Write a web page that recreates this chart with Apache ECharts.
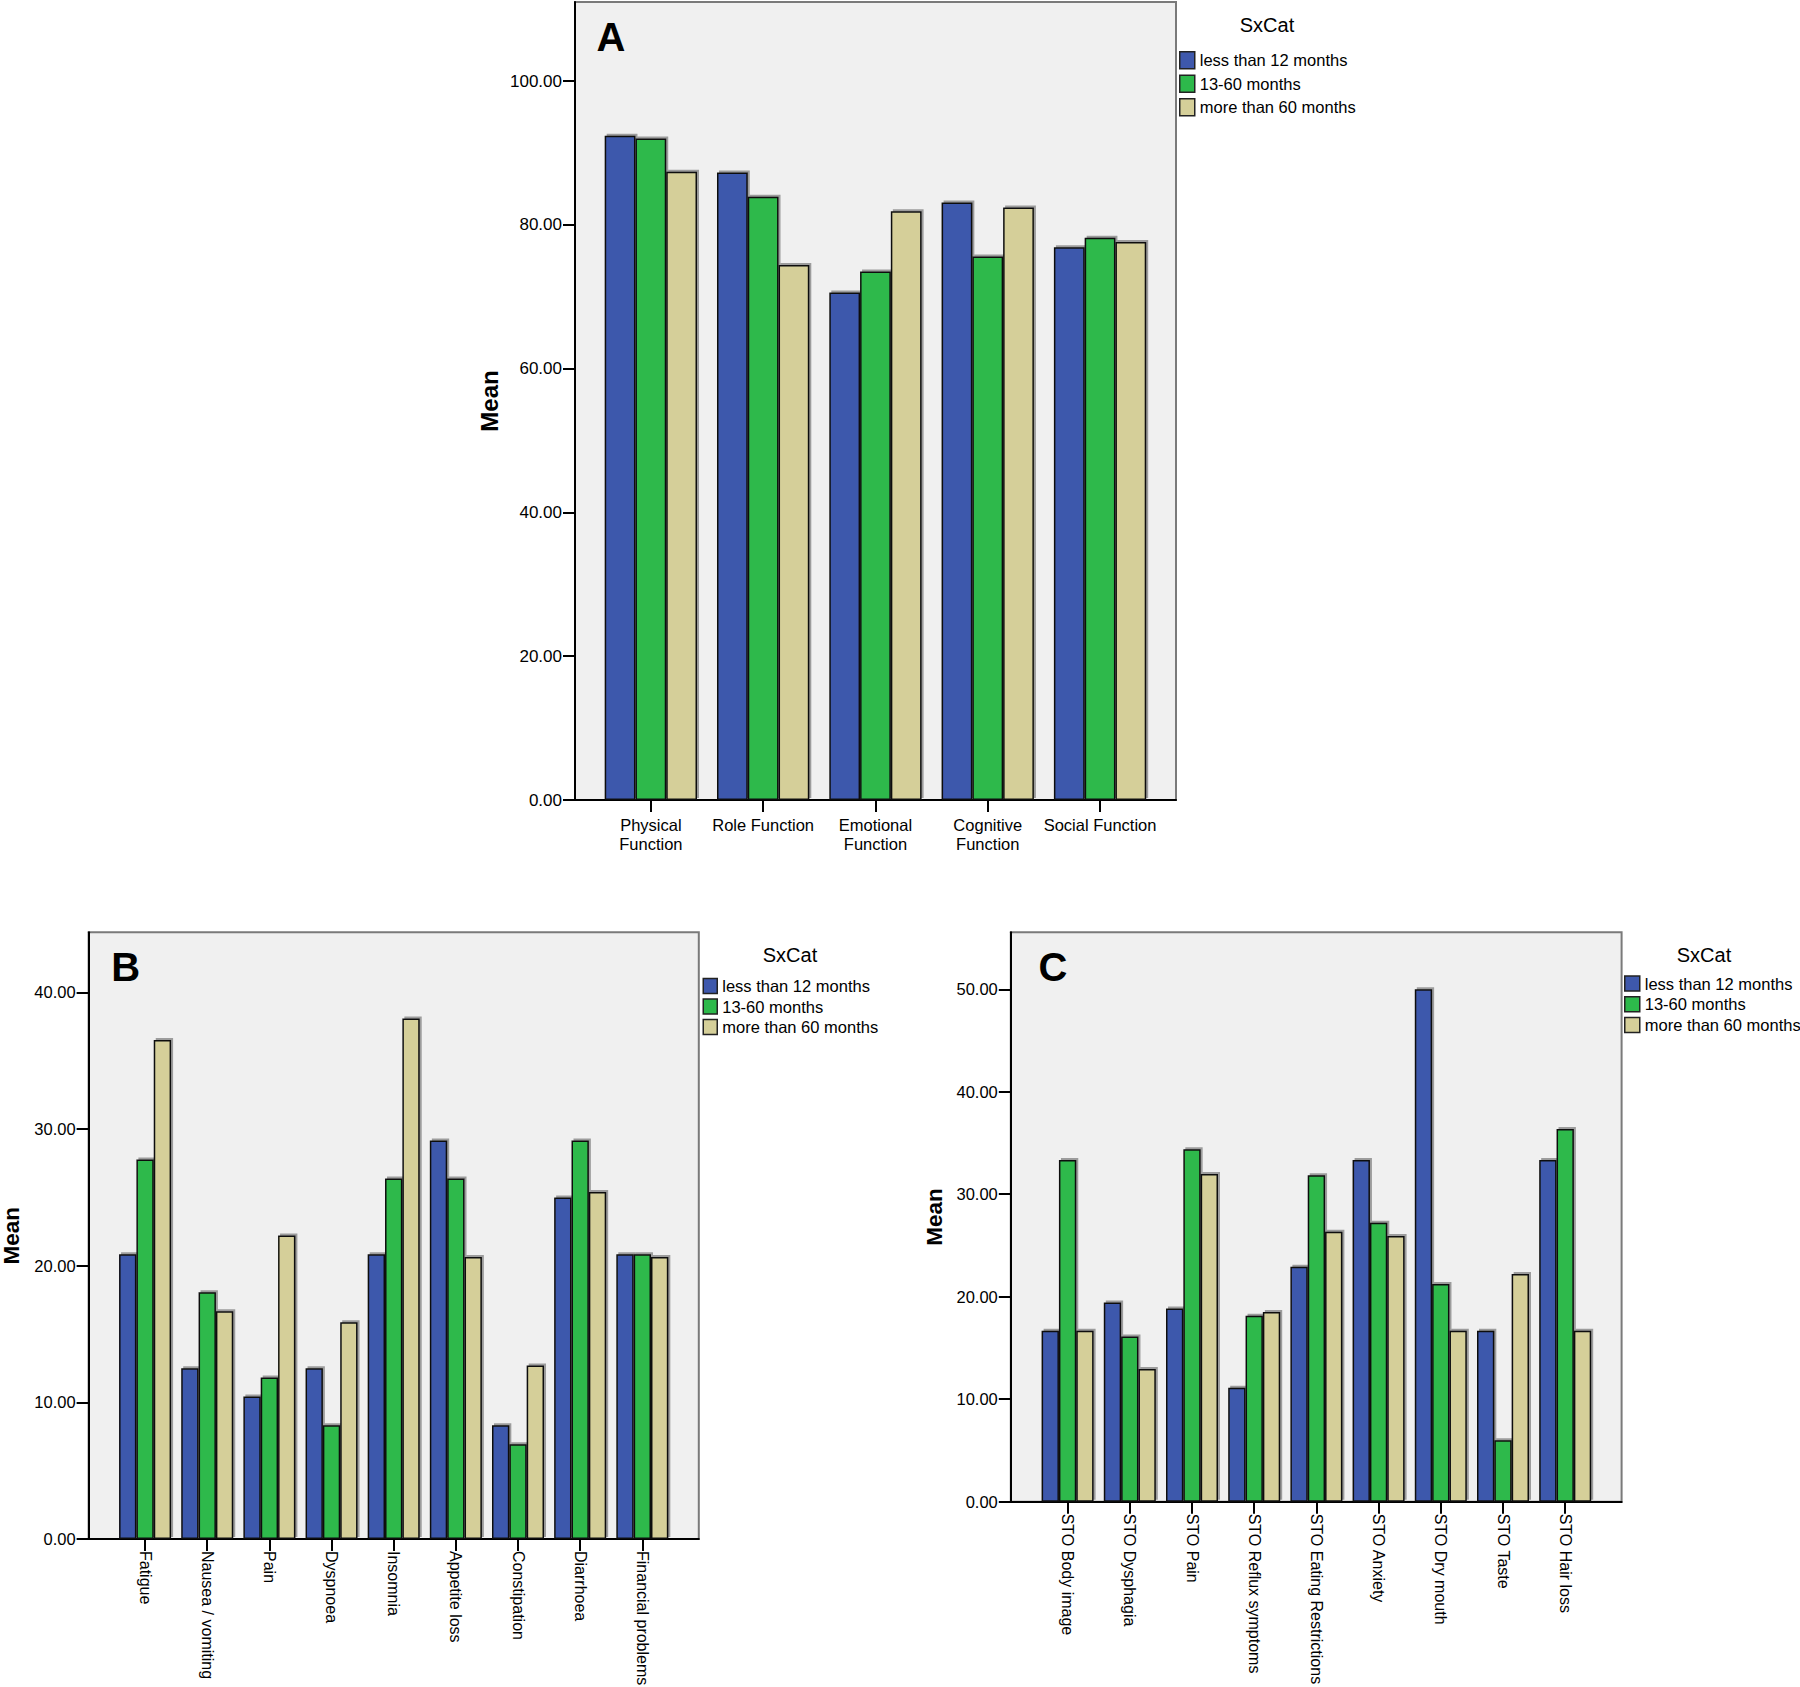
<!DOCTYPE html>
<html><head><meta charset="utf-8">
<script src="https://cdn.jsdelivr.net/npm/echarts@6/dist/echarts.min.js"></script>
<style>html,body{margin:0;padding:0;background:#fff}#c{width:1800px;height:1687px}</style>
</head><body><div id="c"></div><script>
// ---------- DATA ----------
const seriesNames = ['less than 12 months', '13-60 months', 'more than 60 months'];

const catsA = ['Physical\nFunction', 'Role Function', 'Emotional\nFunction', 'Cognitive\nFunction', 'Social Function'];
const lessA = [92.4, 87.3, 70.6, 83.1, 76.9];
const midA  = [92.0, 83.9, 73.5, 75.6, 78.2];
const moreA = [87.4, 74.4, 81.9, 82.4, 77.6];
const ticksA = [0, 20, 40, 60, 80, 100];

const catsB = ['Fatigue', 'Nausea / vomiting', 'Pain', 'Dyspnoea', 'Insomnia', 'Appetite loss', 'Constipation', 'Diarrhoea', 'Financial problems'];
const lessB = [20.83, 12.5, 10.42, 12.5, 20.83, 29.17, 8.33, 25.0, 20.83];
const midB  = [27.78, 18.06, 11.81, 8.33, 26.39, 26.39, 6.94, 29.17, 20.83];
const moreB = [36.51, 16.67, 22.22, 15.87, 38.1, 20.63, 12.7, 25.4, 20.63];
const ticksB = [0, 10, 20, 30, 40];

const catsC = ['STO Body image', 'STO Dysphagia', 'STO Pain', 'STO Reflux symptoms', 'STO Eating Restrictions', 'STO Anxiety', 'STO Dry mouth', 'STO Taste', 'STO Hair loss'];
const lessC = [16.67, 19.44, 18.84, 11.11, 22.92, 33.33, 50.0, 16.67, 33.33];
const midC  = [33.33, 16.11, 34.38, 18.15, 31.85, 27.22, 21.25, 6.0, 36.36];
const moreC = [16.67, 12.96, 31.98, 18.52, 26.34, 25.93, 16.67, 22.22, 16.67];
const ticksC = [0, 10, 20, 30, 40, 50];

const legendTitle = 'SxCat';
const yName = 'Mean';
const panelLetters = ['A', 'B', 'C'];

// ---------- STYLE ----------
const COLORS = ['#3E58AC', '#2DB94B', '#D5CF99'];
const ARIAL = '"Liberation Sans", Arial, sans-serif';

const option = {
  backgroundColor: '#ffffff',
  animation: false,
  grid: [], xAxis: [], yAxis: [], series: [], legend: [], graphic: []
};

function addPanel(p) {
  const fi = option.grid.length;
  option.grid.push({
    left: p.fl, top: p.top, width: p.fw, height: p.h, show: true, containLabel: false,
    outerBoundsMode: 'none',
    backgroundColor: '#f0f0f0', borderColor: '#7a7a7a', borderWidth: 2
  });
  const di = option.grid.length;
  option.grid.push({
    left: p.dl, top: p.top, width: p.dw, height: p.h, show: false, containLabel: false,
    outerBoundsMode: 'none'
  });
  const frameAxisLine = { show: true, onZero: false, lineStyle: { color: '#000', width: 2 } };
  option.xAxis.push({ gridIndex: fi, type: 'value', min: 0, max: 1, axisLine: frameAxisLine,
    axisTick: { show: false }, axisLabel: { show: false }, splitLine: { show: false } });
  option.yAxis.push({ gridIndex: fi, type: 'value', min: 0, max: 1, axisLine: frameAxisLine,
    axisTick: { show: false }, axisLabel: { show: false }, splitLine: { show: false } });

  const dx = option.xAxis.length;
  option.xAxis.push({
    gridIndex: di, type: 'category', data: p.cats,
    axisLine: { show: false },
    axisTick: { show: true, alignWithLabel: true, length: 12, lineStyle: { color: '#000', width: 2 } },
    axisLabel: Object.assign({ interval: 0, color: '#000', fontFamily: ARIAL, fontSize: p.xfs,
      margin: p.xmargin }, p.xlabelExtra || {}),
    splitLine: { show: false }
  });
  const dy = option.yAxis.length;
  option.yAxis.push({
    gridIndex: di, type: 'value', min: 0, max: p.max, interval: p.ticks[1] - p.ticks[0],
    offset: p.dl - p.fl,
    axisLine: { show: false },
    axisTick: { show: true, length: 12, customValues: p.ticks, lineStyle: { color: '#000', width: 2 } },
    axisLabel: { customValues: p.ticks, formatter: v => Number(v).toFixed(2), margin: 13,
      color: '#000', fontFamily: ARIAL, fontSize: p.yfs },
    splitLine: { show: false },
    name: yName, nameLocation: 'middle', nameRotate: 90, nameGap: p.nameGap,
    nameTextStyle: { fontWeight: 'bold', fontSize: p.nameFs, fontFamily: ARIAL, color: '#000' }
  });
  p.data.forEach((arr, k) => {
    option.series.push({
      type: 'bar', name: seriesNames[k], xAxisIndex: dx, yAxisIndex: dy, data: arr,
      barGap: '0%', barCategoryGap: p.catGap,
      itemStyle: { color: COLORS[k], borderColor: '#111', borderWidth: 1.5,
        shadowColor: 'rgba(0,0,0,0.35)', shadowOffsetX: 2, shadowOffsetY: -2, shadowBlur: 0 },
      emphasis: { disabled: true }
    });
  });
  option.legend.push({
    orient: 'vertical', left: p.legLeft, top: p.legTop, data: seriesNames, icon: 'rect',
    itemWidth: p.legW, itemHeight: p.legH, itemGap: p.legGap, padding: 0,
    textStyle: { fontFamily: ARIAL, fontSize: p.legFs, color: '#000' },
    itemStyle: { borderColor: '#222', borderWidth: 1.5 },
    selectedMode: false
  });
  option.graphic.push({
    type: 'text', x: p.titleX, y: p.titleY, silent: true,
    style: { text: legendTitle, fill: '#000', font: p.titleFs + 'px ' + ARIAL,
      align: 'center', verticalAlign: 'middle', textAlign: 'center', textVerticalAlign: 'middle' }
  });
  option.graphic.push({
    type: 'text', x: p.letterX, y: p.letterY, silent: true, z: 100,
    style: { text: p.letter, fill: '#000', font: 'bold 40px ' + ARIAL,
      align: 'center', verticalAlign: 'middle', textAlign: 'center', textVerticalAlign: 'middle' }
  });
}

// Panel A
addPanel({
  fl: 575, fw: 601, dl: 594.7, dw: 561.5, top: 2, h: 798, max: 111, ticks: ticksA,
  cats: catsA, data: [lessA, midA, moreA], catGap: '17.8%',
  xfs: 16.5, yfs: 17, xmargin: 15, xlabelExtra: { lineHeight: 19 },
  nameGap: 74, nameFs: 24,
  legLeft: 1179, legTop: 51, legW: 15, legH: 17, legGap: 5, legFs: 16.5,
  titleX: 1267, titleY: 25, titleFs: 20, letter: panelLetters[0], letterX: 611, letterY: 37
});
// Panel B
addPanel({
  fl: 88.6, fw: 610.2, dl: 114, dw: 559.4, top: 932.3, h: 606.7, max: 44.4, ticks: ticksB,
  cats: catsB, data: [lessB, midB, moreB], catGap: '16.3%',
  xfs: 16, yfs: 16.5, xmargin: 12, xlabelExtra: { rotate: -90 },
  nameGap: 66, nameFs: 22.5,
  legLeft: 702.5, legTop: 977.5, legW: 14, legH: 15, legGap: 3.5, legFs: 16.5,
  titleX: 790, titleY: 955, titleFs: 20, letter: panelLetters[1], letterX: 125.8, letterY: 967
});
// Panel C
addPanel({
  fl: 1010.8, fw: 610.8, dl: 1036.5, dw: 559.8, top: 932.3, h: 569.4, max: 55.56, ticks: ticksC,
  cats: catsC, data: [lessC, midC, moreC], catGap: '16.4%',
  xfs: 16, yfs: 16.5, xmargin: 12, xlabelExtra: { rotate: -90 },
  nameGap: 65, nameFs: 22.5,
  legLeft: 1624, legTop: 975, legW: 15, legH: 15, legGap: 3.7, legFs: 16.5,
  titleX: 1704, titleY: 955, titleFs: 20, letter: panelLetters[2], letterX: 1053, letterY: 967
});

const chart = echarts.init(document.getElementById('c'), null, { renderer: 'svg', width: 1800, height: 1687 });
chart.setOption(option);
</script></body></html>
